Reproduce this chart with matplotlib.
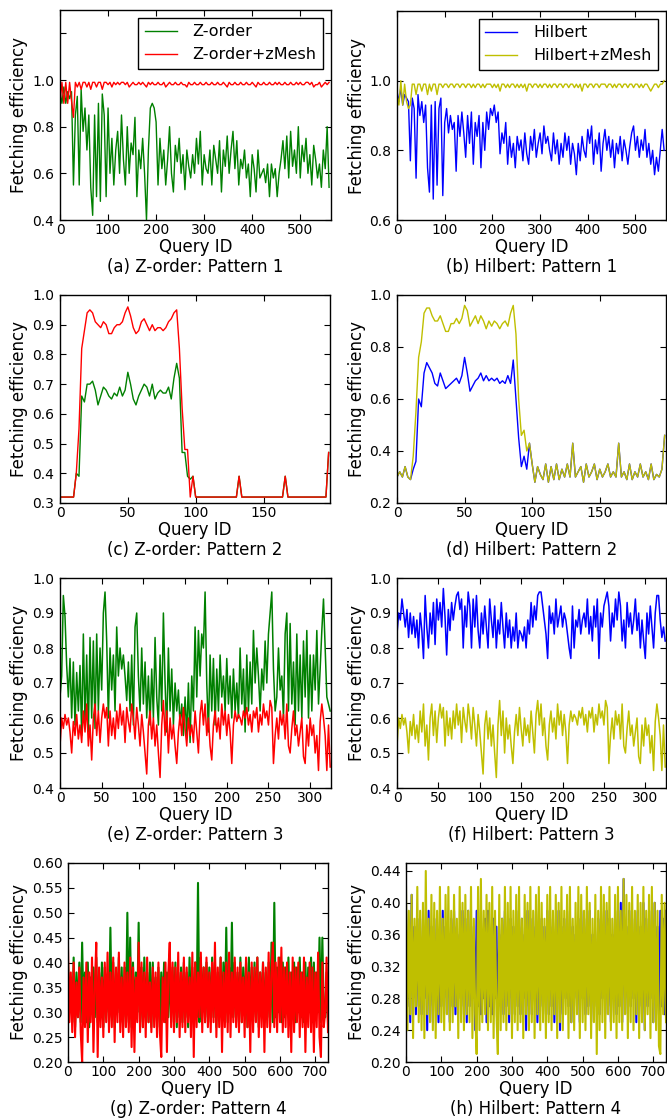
import numpy as np
import matplotlib
matplotlib.use('Agg')
import matplotlib.pyplot as plt
from matplotlib.transforms import ScaledTranslation, blended_transform_factory

# ---------------- data (values in hundredths of fetching efficiency) ----------------
# Pattern 1: one value every 4 query IDs, 564 queries
p1_zorder = [95, 90, 97, 90, 95, 92, 95, 55, 85, 93,
             55, 96, 78, 88, 70, 85, 54, 42, 85, 50,
             90, 48, 94, 85, 50, 88, 60, 75, 55, 70,
             78, 60, 85, 66, 55, 80, 60, 73, 68, 84,
             50, 70, 62, 75, 60, 40, 70, 88, 90, 88,
             82, 55, 75, 62, 70, 55, 66, 80, 60, 52,
             72, 65, 75, 60, 68, 53, 70, 63, 58, 68,
             60, 75, 64, 78, 55, 68, 62, 60, 70, 55,
             72, 66, 60, 74, 52, 70, 63, 76, 60, 70,
             78, 62, 74, 55, 66, 62, 70, 58, 64, 50,
             68, 62, 52, 70, 58, 60, 62, 56, 64, 50,
             64, 58, 62, 50, 60, 66, 74, 62, 76, 58,
             78, 63, 70, 60, 80, 58, 72, 65, 75, 60,
             68, 55, 72, 66, 58, 64, 54, 70, 62, 80,
             54]
p1_zorder_zmesh = [90, 99, 90, 99, 90, 99, 91, 84, 99, 97,
                   99, 96, 99, 99, 97, 99, 96, 99, 99, 97,
                   99, 99, 96, 99, 99, 98, 99, 97, 99, 98,
                   99, 98, 99, 99, 98, 99, 97, 98, 99, 98,
                   98, 99, 98, 99, 98, 97, 99, 98, 99, 98,
                   98, 99, 98, 98, 99, 97, 98, 99, 98, 98,
                   99, 98, 98, 99, 98, 98, 97, 99, 98, 98,
                   99, 98, 98, 99, 98, 98, 99, 98, 98, 99,
                   98, 98, 99, 98, 98, 99, 98, 97, 99, 98,
                   98, 99, 98, 98, 99, 98, 98, 99, 98, 98,
                   99, 98, 97, 99, 98, 98, 99, 98, 98, 99,
                   98, 98, 99, 98, 99, 98, 98, 99, 98, 98,
                   99, 98, 98, 99, 98, 99, 98, 98, 99, 99,
                   98, 99, 97, 98, 98, 99, 97, 98, 99, 98,
                   99]
p1_hilbert = [97, 94, 98, 93, 96, 95, 94, 77, 95, 92,
              72, 96, 90, 94, 88, 93, 75, 68, 93, 66,
              94, 70, 92, 95, 67, 88, 92, 85, 90, 86,
              88, 74, 90, 84, 91, 85, 78, 90, 82, 91,
              76, 88, 84, 90, 75, 88, 80, 91, 86, 92,
              90, 93, 88, 91, 79, 85, 82, 88, 76, 84,
              78, 82, 75, 84, 80, 83, 77, 85, 79, 76,
              84, 80, 86, 78, 82, 85, 79, 87, 82, 84,
              80, 77, 85, 79, 83, 76, 82, 78, 85, 80,
              84, 76, 82, 79, 73, 82, 77, 84, 80, 78,
              86, 82, 87, 76, 83, 79, 85, 74, 82, 86,
              80, 84, 78, 83, 75, 82, 79, 84, 77, 83,
              80, 76, 81, 85, 87, 80, 84, 78, 83, 80,
              86, 78, 82, 76, 80, 73, 78, 74, 80, 86,
              80]
p1_hilbert_zmesh = [96, 93, 100, 93, 99, 94, 92, 93, 99, 99,
                    96, 99, 99, 97, 99, 99, 96, 99, 97, 99,
                    99, 96, 99, 99, 98, 99, 99, 98, 99, 99,
                    98, 99, 99, 98, 99, 99, 98, 99, 99, 98,
                    99, 98, 99, 99, 98, 99, 98, 99, 99, 99,
                    98, 99, 98, 99, 97, 99, 99, 98, 99, 98,
                    99, 99, 98, 99, 98, 99, 98, 99, 97, 99,
                    99, 98, 99, 99, 98, 99, 98, 99, 99, 98,
                    99, 98, 99, 99, 98, 99, 99, 98, 99, 99,
                    98, 99, 99, 98, 99, 98, 99, 97, 99, 99,
                    98, 99, 99, 98, 99, 99, 98, 99, 99, 99,
                    98, 99, 99, 98, 99, 98, 99, 99, 98, 99,
                    99, 98, 99, 99, 98, 99, 99, 98, 99, 98,
                    99, 99, 98, 97, 98, 99, 99, 98, 99, 99,
                    100]

# Pattern 2: one value every 2 query IDs
p2_zorder = [32, 32, 32, 32, 32, 32, 40, 39, 66, 64,
             70, 70, 71, 68, 63, 66, 69, 68, 66, 65,
             67, 66, 69, 66, 68, 74, 70, 65, 63, 66,
             68, 70, 69, 66, 70, 65, 67, 68, 67, 67,
             69, 65, 72, 77, 72, 47, 47, 39, 38, 39,
             32, 32, 32, 32, 32, 32, 32, 32, 32, 32,
             32, 32, 32, 32, 32, 32, 39, 32, 32, 32,
             32, 32, 32, 32, 32, 32, 32, 32, 32, 32,
             32, 32, 32, 39, 32, 32, 32, 32, 32, 32,
             32, 32, 32, 32, 32, 32, 32, 32, 32, 47]
p2_zorder_zmesh = [32, 32, 32, 32, 32, 32, 40, 55, 82, 88,
                   94, 95, 94, 91, 90, 89, 91, 90, 87, 87,
                   89, 90, 90, 91, 94, 96, 93, 89, 87, 88,
                   91, 92, 90, 88, 90, 88, 89, 89, 88, 89,
                   91, 92, 94, 95, 82, 62, 48, 48, 32, 39,
                   32, 32, 32, 32, 32, 32, 32, 32, 32, 32,
                   32, 32, 32, 32, 32, 32, 39, 32, 32, 32,
                   32, 32, 32, 32, 32, 32, 32, 32, 32, 32,
                   32, 32, 32, 39, 32, 32, 32, 32, 32, 32,
                   32, 32, 32, 32, 32, 32, 32, 32, 32, 47]
p2_hilbert = [30, 32, 30, 34, 30, 29, 33, 36, 60, 57,
              70, 74, 72, 70, 66, 65, 70, 67, 64, 65,
              66, 67, 68, 66, 69, 76, 70, 63, 65, 67,
              68, 70, 67, 69, 67, 68, 67, 68, 66, 67,
              66, 69, 66, 75, 60, 45, 34, 38, 33, 43,
              35, 28, 34, 31, 29, 35, 28, 34, 29, 35,
              29, 33, 30, 35, 30, 43, 30, 32, 34, 28,
              35, 30, 32, 35, 29, 33, 30, 32, 35, 30,
              32, 30, 43, 30, 32, 29, 35, 29, 32, 30,
              35, 30, 32, 29, 35, 29, 31, 30, 33, 46]
p2_hilbert_zmesh = [30, 32, 30, 34, 30, 29, 38, 55, 76, 82,
                    93, 95, 95, 92, 90, 90, 92, 89, 86, 86,
                    89, 89, 91, 89, 91, 96, 94, 88, 90, 92,
                    89, 92, 90, 87, 90, 88, 90, 89, 87, 89,
                    90, 88, 93, 96, 85, 60, 46, 48, 40, 43,
                    35, 28, 34, 31, 29, 35, 28, 34, 29, 35,
                    29, 33, 30, 35, 30, 43, 30, 32, 34, 28,
                    35, 30, 32, 35, 29, 33, 30, 32, 35, 30,
                    32, 30, 43, 30, 32, 29, 35, 29, 32, 30,
                    35, 30, 32, 29, 35, 29, 31, 30, 33, 46]

# Pattern 3: one value every 2 query IDs (zMesh curve is the same for both orders)
p3_zorder = [66, 72, 95, 89, 75, 66, 77, 60, 76, 58,
             73, 62, 75, 55, 84, 58, 78, 56, 83, 60,
             82, 57, 84, 62, 80, 68, 90, 96, 82, 60,
             80, 68, 78, 62, 86, 72, 80, 74, 78, 72,
             65, 76, 62, 78, 58, 86, 90, 72, 62, 80,
             64, 76, 60, 72, 58, 74, 60, 83, 66, 58,
             78, 62, 90, 70, 56, 80, 62, 74, 58, 70,
             62, 68, 58, 64, 55, 66, 55, 70, 53, 72,
             62, 86, 66, 85, 72, 84, 80, 96, 70, 56,
             78, 62, 77, 58, 74, 62, 78, 66, 72, 62,
             77, 64, 72, 60, 74, 62, 70, 60, 80, 64,
             74, 56, 78, 62, 76, 64, 85, 70, 80, 72,
             62, 74, 68, 82, 70, 84, 90, 96, 74, 62,
             66, 80, 68, 72, 60, 84, 90, 62, 87, 64,
             76, 58, 84, 62, 78, 60, 82, 66, 85, 60,
             78, 62, 78, 68, 85, 64, 74, 85, 94, 80,
             66, 64, 62]
p3_zmesh = [52, 60, 57, 61, 58, 60, 56, 50, 59, 55,
            61, 54, 58, 53, 62, 56, 64, 52, 58, 48,
            60, 64, 55, 62, 53, 60, 64, 60, 63, 52,
            62, 55, 60, 54, 62, 57, 64, 58, 62, 53,
            63, 59, 56, 64, 60, 54, 63, 58, 52, 61,
            56, 50, 44, 58, 62, 54, 60, 52, 58, 50,
            43, 58, 65, 55, 62, 50, 60, 54, 58, 52,
            47, 56, 61, 55, 63, 57, 52, 60, 55, 58,
            53, 62, 56, 50, 61, 65, 58, 64, 55, 60,
            52, 48, 58, 62, 56, 60, 54, 64, 58, 62,
            55, 61, 56, 47, 58, 62, 59, 61, 60, 58,
            62, 60, 63, 58, 61, 56, 62, 60, 63, 56,
            61, 58, 64, 60, 62, 58, 65, 63, 47, 55,
            60, 54, 62, 58, 61, 54, 64, 52, 50, 57,
            62, 55, 58, 52, 56, 60, 49, 47, 58, 52,
            60, 55, 58, 50, 55, 45, 59, 64, 60, 55,
            45, 58, 46]
p3_hilbert = [84, 90, 88, 94, 90, 86, 91, 83, 90, 84,
              89, 83, 88, 80, 90, 85, 77, 95, 86, 80,
              90, 84, 93, 81, 94, 88, 93, 86, 97, 89,
              78, 91, 85, 93, 88, 92, 95, 96, 91, 94,
              80, 92, 86, 96, 92, 80, 94, 86, 95, 85,
              80, 90, 84, 92, 86, 80, 94, 88, 83, 92,
              80, 88, 84, 93, 86, 80, 90, 83, 88, 80,
              86, 82, 90, 80, 85, 84, 82, 86, 80, 88,
              84, 93, 86, 92, 88, 95, 96, 96, 92, 88,
              84, 77, 92, 87, 90, 84, 94, 86, 89, 92,
              86, 90, 88, 84, 80, 77, 92, 80, 88, 86,
              91, 84, 88, 90, 86, 94, 84, 89, 82, 92,
              86, 94, 77, 90, 86, 92, 94, 96, 92, 82,
              90, 86, 94, 88, 96, 92, 82, 88, 80, 93,
              86, 90, 84, 88, 94, 85, 90, 80, 88, 82,
              77, 90, 84, 92, 86, 80, 90, 95, 95, 88,
              83, 86, 82]

# Pattern 4: one value every 4 query IDs
p4_zorder = [40, 30, 37, 28, 41, 27, 38, 29, 40, 28,
             44, 30, 38, 28, 40, 27, 37, 30, 39, 29,
             41, 28, 38, 29, 40, 27, 39, 30, 37, 28,
             47, 29, 40, 27, 38, 30, 41, 28, 39, 27,
             39, 29, 50, 28, 45, 27, 40, 29, 38, 30,
             48, 28, 39, 27, 41, 29, 38, 28, 40, 27,
             40, 29, 37, 28, 39, 27, 38, 30, 40, 28,
             38, 29, 41, 28, 39, 30, 40, 27, 38, 29,
             39, 28, 40, 29, 38, 27, 41, 30, 39, 28,
             40, 29, 56, 28, 41, 30, 39, 28, 40, 29,
             39, 28, 41, 29, 40, 27, 38, 29, 41, 28,
             40, 29, 47, 28, 39, 30, 48, 29, 40, 28,
             38, 29, 41, 28, 39, 30, 40, 27, 41, 29,
             39, 28, 40, 29, 41, 27, 38, 30, 40, 28,
             38, 29, 40, 27, 44, 28, 52, 29, 39, 30,
             41, 28, 40, 29, 39, 30, 41, 28, 38, 29,
             40, 28, 39, 30, 41, 29, 38, 28, 40, 29,
             39, 30, 41, 28, 40, 29, 38, 30, 45, 28,
             45, 30, 29, 38, 28]
p4_zorder_zmesh = [43, 28, 38, 26, 40, 25, 36, 29, 39, 26,
                   20, 37, 27, 40, 24, 38, 28, 41, 22, 35,
                   44, 21, 39, 27, 37, 25, 40, 28, 42, 26,
                   38, 27, 41, 24, 39, 28, 42, 26, 37, 25,
                   40, 27, 38, 26, 41, 23, 39, 22, 37, 28,
                   44, 26, 40, 27, 38, 25, 41, 28, 36, 26,
                   39, 27, 38, 25, 40, 26, 21, 37, 28, 40,
                   22, 38, 44, 27, 40, 26, 39, 28, 42, 25,
                   38, 27, 41, 26, 39, 28, 37, 25, 42, 21,
                   40, 27, 38, 29, 42, 26, 39, 28, 41, 27,
                   38, 26, 40, 28, 44, 25, 39, 27, 41, 22,
                   38, 27, 40, 26, 42, 25, 38, 28, 41, 27,
                   39, 26, 40, 28, 37, 25, 41, 27, 38, 22,
                   40, 26, 39, 28, 41, 25, 38, 27, 40, 22,
                   39, 27, 42, 26, 38, 44, 27, 40, 26, 41,
                   28, 43, 26, 39, 27, 40, 25, 38, 22, 41,
                   26, 39, 28, 40, 25, 38, 27, 41, 22, 37,
                   27, 40, 26, 39, 22, 38, 27, 42, 25, 21,
                   40, 27, 30, 41, 26]
p4_hilbert = [39, 27, 36, 25, 41, 28, 37, 26, 38, 27,
              35, 26, 38, 28, 36, 24, 39, 27, 37, 25,
              38, 28, 36, 25, 35, 27, 39, 26, 37, 28,
              36, 25, 38, 27, 39, 26, 37, 28, 36, 27,
              39, 26, 38, 25, 39, 27, 36, 28, 37, 24,
              39, 27, 37, 26, 36, 28, 38, 25, 39, 27,
              36, 26, 38, 28, 37, 25, 36, 27, 38, 26,
              39, 27, 36, 25, 38, 28, 37, 26, 39, 27,
              37, 26, 38, 28, 36, 24, 39, 27, 38, 26,
              37, 28, 39, 25, 36, 27, 38, 26, 37, 28,
              39, 26, 37, 27, 38, 25, 36, 28, 39, 24,
              37, 26, 38, 28, 36, 27, 39, 25, 37, 28,
              36, 27, 38, 25, 39, 28, 37, 26, 38, 27,
              39, 25, 36, 28, 33, 27, 38, 26, 39, 28,
              37, 26, 39, 27, 38, 25, 36, 28, 39, 26,
              38, 27, 40, 25, 43, 28, 37, 26, 39, 27,
              36, 28, 38, 25, 39, 27, 37, 26, 40, 24,
              38, 27, 36, 28, 39, 25, 40, 27, 37, 26,
              39, 27, 38, 26, 39]
p4_hilbert_zmesh = [42, 24, 39, 26, 41, 23, 38, 27, 42, 25,
                    39, 24, 40, 23, 44, 26, 38, 25, 41, 24,
                    40, 23, 39, 26, 42, 25, 38, 24, 41, 26,
                    42, 24, 39, 25, 41, 27, 38, 23, 42, 25,
                    40, 24, 41, 26, 39, 25, 42, 23, 38, 26,
                    21, 42, 24, 43, 25, 39, 26, 41, 24, 40,
                    25, 42, 23, 39, 26, 21, 41, 24, 38, 25,
                    42, 24, 40, 26, 42, 23, 39, 25, 41, 24,
                    42, 25, 38, 23, 41, 26, 40, 24, 42, 25,
                    39, 23, 41, 26, 42, 24, 40, 25, 38, 23,
                    41, 25, 42, 24, 39, 26, 41, 23, 40, 25,
                    42, 24, 39, 26, 41, 23, 42, 25, 38, 24,
                    40, 26, 42, 23, 41, 25, 39, 24, 42, 26,
                    40, 23, 38, 25, 41, 21, 39, 24, 42, 25,
                    41, 23, 40, 26, 42, 24, 38, 25, 41, 23,
                    42, 25, 39, 24, 43, 26, 41, 23, 40, 25,
                    42, 24, 39, 26, 41, 23, 40, 25, 42, 24,
                    39, 26, 41, 23, 42, 25, 40, 24, 39, 22,
                    21, 41, 26, 40, 25]

series_names = ['Z-order', 'Z-order+zMesh', 'Hilbert', 'Hilbert+zMesh']
captions = ['(a) Z-order: Pattern 1', '(b) Hilbert: Pattern 1',
            '(c) Z-order: Pattern 2', '(d) Hilbert: Pattern 2',
            '(e) Z-order: Pattern 3', '(f) Hilbert: Pattern 3',
            '(g) Z-order: Pattern 4', '(h) Hilbert: Pattern 4']
n_queries = [564, 199, 325, 736]
id_step = [4, 2, 2, 4]

# ---------------- figure ----------------
W, H = 667, 1119
fig = plt.figure(figsize=(W / 100, H / 100), dpi=100)
fig.patch.set_facecolor('white')

C_Z, C_ZM, C_H, C_HM = '#008000', '#ff0000', '#0000ff', '#bfbf00'

# pixel boxes (left, top, right, bottom)
boxes = [(60, 10, 331, 220), (397, 11, 666, 220),
         (60, 295, 330, 503), (397, 295, 666, 503),
         (60, 578, 331, 788), (397, 578, 666, 788),
         (68, 863, 328, 1062), (406, 863, 666, 1062)]
line_w = [1.0, 1.0, 1.1, 1.5]

panels = [
    dict(data=[(p1_zorder, C_Z), (p1_zorder_zmesh, C_ZM)], row=0,
         ylim=(0.4, 1.3), yticks=[0.4, 0.6, 0.8, 1.0, 1.2],
         ylabels=['0.4', '0.6', '0.8', '1.0', ''], xticks=range(0, 501, 100),
         legend=series_names[0:2]),
    dict(data=[(p1_hilbert, C_H), (p1_hilbert_zmesh, C_HM)], row=0,
         ylim=(0.6, 1.2), yticks=[0.6, 0.8, 1.0, 1.2],
         ylabels=['0.6', '0.8', '1.0', ''], xticks=range(0, 501, 100),
         legend=series_names[2:4]),
    dict(data=[(p2_zorder, C_Z), (p2_zorder_zmesh, C_ZM)], row=1,
         ylim=(0.3, 1.0), yticks=[0.3, 0.4, 0.5, 0.6, 0.7, 0.8, 0.9, 1.0],
         ylabels=None, xticks=[0, 50, 100, 150]),
    dict(data=[(p2_hilbert, C_H), (p2_hilbert_zmesh, C_HM)], row=1,
         ylim=(0.2, 1.0), yticks=[0.2, 0.4, 0.6, 0.8, 1.0],
         ylabels=None, xticks=[0, 50, 100, 150]),
    dict(data=[(p3_zorder, C_Z), (p3_zmesh, C_ZM)], row=2,
         ylim=(0.4, 1.0), yticks=[0.4, 0.5, 0.6, 0.7, 0.8, 0.9, 1.0],
         ylabels=None, xticks=range(0, 301, 50)),
    dict(data=[(p3_hilbert, C_H), (p3_zmesh, C_HM)], row=2,
         ylim=(0.4, 1.0), yticks=[0.4, 0.5, 0.6, 0.7, 0.8, 0.9, 1.0],
         ylabels=None, xticks=range(0, 301, 50)),
    dict(data=[(p4_zorder, C_Z), (p4_zorder_zmesh, C_ZM)], row=3,
         ylim=(0.2, 0.6), yticks=[0.2, 0.25, 0.3, 0.35, 0.4, 0.45, 0.5, 0.55, 0.6],
         ylabels=['0.20', '0.25', '0.30', '0.35', '0.40', '0.45', '0.50', '0.55', '0.60'],
         xticks=range(0, 701, 100)),
    dict(data=[(p4_hilbert, C_H), (p4_hilbert_zmesh, C_HM)], row=3,
         ylim=(0.2, 0.45), yticks=[0.20, 0.24, 0.28, 0.32, 0.36, 0.40, 0.44],
         ylabels=['0.20', '0.24', '0.28', '0.32', '0.36', '0.40', '0.44'],
         xticks=range(0, 701, 100)),
]

XLAB_OFF = 27   # px below the axes bottom (centre of "Query ID")
CAP_OFF = 47    # px below the axes bottom (centre of the caption)

for i, (p, box) in enumerate(zip(panels, boxes)):
    l, t, r, b = box
    ax = fig.add_axes([l / W, 1 - b / H, (r - l) / W, (b - t) / H])
    row = p['row']
    step = id_step[row]
    handles = []
    for vals, col in p['data']:
        v = np.asarray(vals, dtype=float) / 100.0
        x = np.arange(len(v)) * step
        h, = ax.plot(x, v, color=col, lw=line_w[row])
        handles.append(h)
    ax.set_xlim(0, n_queries[row])
    ax.set_ylim(*p['ylim'])
    ax.set_xticks(list(p['xticks']))
    ax.set_yticks(p['yticks'])
    if p['ylabels'] is not None:
        ax.set_yticklabels(p['ylabels'])
    ax.tick_params(direction='in', top=True, right=True, length=4, width=0.8,
                   labelsize=10)
    ax.tick_params(axis='x', pad=2)
    ax.tick_params(axis='y', pad=4)
    for s in ax.spines.values():
        s.set_linewidth(1.0)
        s.set_color('black')

    # x label and caption
    ax.set_xlabel('Query ID', fontsize=12, va='center')
    ax.xaxis.set_label_coords(0.5, 0, transform=ax.transAxes +
                              ScaledTranslation(0, -XLAB_OFF / 100, fig.dpi_scale_trans))
    ax.text(0.5, 0, captions[i], fontsize=12, ha='center', va='center',
            transform=ax.transAxes + ScaledTranslation(0, -CAP_OFF / 100, fig.dpi_scale_trans))

    # y label
    ax.set_ylabel('Fetching efficiency', fontsize=12, va='center')
    xc = 19.5 if i % 2 == 0 else 356.5
    ax.yaxis.set_label_coords(xc / W, 0.5,
                              transform=blended_transform_factory(fig.transFigure, ax.transAxes))

    if 'legend' in p:
        leg = ax.legend(handles, p['legend'], loc='upper right', fontsize=11.5,
                        fancybox=False, framealpha=1, edgecolor='black',
                        handlelength=2.0, handletextpad=1.0, borderpad=0.4,
                        labelspacing=0.5, borderaxespad=0.5)
        leg.get_frame().set_linewidth(1.0)

fig.savefig('out.png', dpi=100, facecolor='white')
